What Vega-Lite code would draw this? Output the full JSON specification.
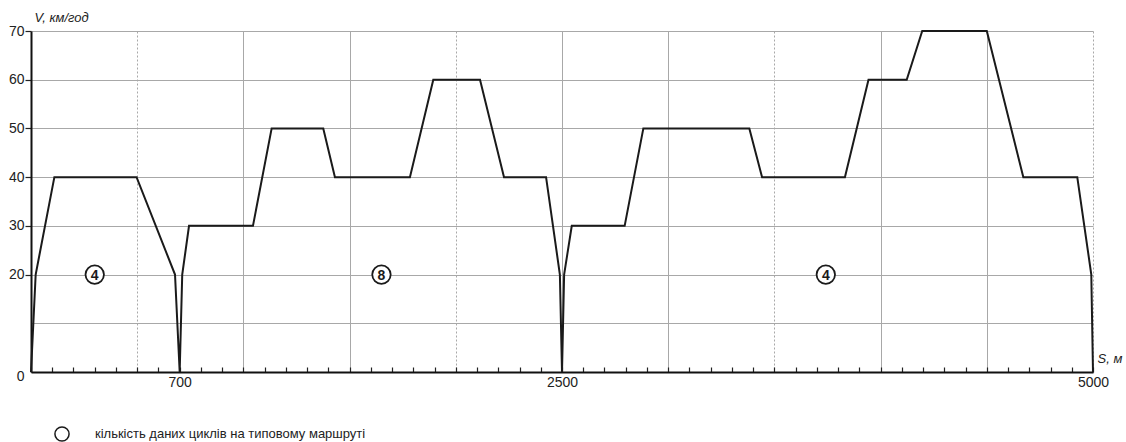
{
  "$schema": "https://vega.github.io/schema/vega-lite/v6.json",
  "width": 1062,
  "height": 341,
  "autosize": "none",
  "padding": {"left": 31, "top": 31, "right": 33, "bottom": 70},
  "background": "white",
  "config": {
    "font": "Liberation Sans",
    "view": {"stroke": null},
    "axis": {"labelFont": "Liberation Sans", "titleFont": "Liberation Sans", "labelColor": "#222", "titleColor": "#222"}
  },
  "datasets": {
    "profile": [
      {"S": 0, "V": 0}, {"S": 22, "V": 20}, {"S": 110, "V": 40}, {"S": 497, "V": 40},
      {"S": 678, "V": 20}, {"S": 700, "V": 0}, {"S": 712, "V": 20}, {"S": 744, "V": 30},
      {"S": 1045, "V": 30}, {"S": 1133, "V": 50}, {"S": 1376, "V": 50}, {"S": 1431, "V": 40},
      {"S": 1784, "V": 40}, {"S": 1894, "V": 60}, {"S": 2114, "V": 60}, {"S": 2227, "V": 40},
      {"S": 2425, "V": 40}, {"S": 2490, "V": 20}, {"S": 2500, "V": 0}, {"S": 2510, "V": 20},
      {"S": 2546, "V": 30}, {"S": 2795, "V": 30}, {"S": 2883, "V": 50}, {"S": 3382, "V": 50},
      {"S": 3442, "V": 40}, {"S": 3832, "V": 40}, {"S": 3943, "V": 60}, {"S": 4123, "V": 60},
      {"S": 4196, "V": 70}, {"S": 4500, "V": 70}, {"S": 4672, "V": 40}, {"S": 4926, "V": 40},
      {"S": 4992, "V": 20}, {"S": 5000, "V": 0}
    ],
    "cycles": [
      {"S": 300, "V": 20, "n": "4", "marker": "кількість даних циклів на типовому маршруті"},
      {"S": 1650, "V": 20, "n": "8", "marker": "кількість даних циклів на типовому маршруті"},
      {"S": 3742, "V": 20, "n": "4", "marker": "кількість даних циклів на типовому маршруті"}
    ]
  },
  "layer": [
    {
      "data": {"name": "profile"},
      "mark": {"type": "line", "color": "#1a1a1a", "strokeWidth": 2, "strokeJoin": "miter"},
      "encoding": {
        "x": {
          "field": "S", "type": "quantitative",
          "scale": {"domain": [0, 5000], "nice": false, "zero": false},
          "axis": {
            "values": [0,100,200,300,400,500,600,700,800,900,1000,1100,1200,1300,1400,1500,1600,1700,1800,1900,2000,2100,2200,2300,2400,2500,2600,2700,2800,2900,3000,3100,3200,3300,3400,3500,3600,3700,3800,3900,4000,4100,4200,4300,4400,4500,4600,4700,4800,4900,5000],
            "tickCount": 100,
            "labelExpr": "(datum.value === 700 || datum.value === 2500 || datum.value === 5000) ? datum.label : ''",
            "format": "d",
            "labelFontSize": 14,
            "labelPadding": 8,
            "labelFlush": false,
            "labelOverlap": false,
            "tickSize": -5,
            "tickColor": "#222",
            "tickWidth": 1.2,
            "domainColor": "#111",
            "domainWidth": 2,
            "grid": true,
            "gridColor": "#a8a8a8",
            "gridWidth": 1,
            "gridOpacity": {"condition": {"test": "datum.value % 500 === 0 && datum.value > 0", "value": 1}, "value": 0},
            "gridDash": {"condition": {"test": "datum.value === 500 || datum.value === 2000 || datum.value === 3500 || datum.value === 5000", "value": [2, 2]}, "value": []},
            "title": "S, м",
            "titleFontSize": 13,
            "titleFontStyle": "italic",
            "titleFontWeight": "normal",
            "titleAnchor": null,
            "titleAlign": "left",
            "titleBaseline": "alphabetic",
            "titleX": 1066,
            "titleY": -10
          }
        },
        "y": {
          "field": "V", "type": "quantitative",
          "scale": {"domain": [0, 70], "nice": false},
          "axis": {
            "values": [0,10,20,30,40,50,60,70],
            "tickCount": 20,
            "labelExpr": "datum.value === 10 ? '' : datum.label",
            "labelFontSize": 14,
            "labelPadding": 1,
            "labelFlush": false,
            "labelOffset": {"condition": {"test": "datum.value === 0", "value": 4}, "value": 0},
            "tickSize": 6,
            "tickColor": "#222",
            "tickWidth": 1.2,
            "tickOpacity": {"condition": {"test": "datum.value === 10 || datum.value === 0", "value": 0}, "value": 1},
            "domainColor": "#111",
            "domainWidth": 2,
            "grid": true,
            "gridColor": "#a8a8a8",
            "gridWidth": 1,
            "gridOpacity": {"condition": {"test": "datum.value === 0", "value": 0}, "value": 1},
            "title": "V, км/год",
            "titleFontSize": 13,
            "titleFontStyle": "italic",
            "titleFontWeight": "normal",
            "titleAngle": 0,
            "titleAnchor": null,
            "titleAlign": "left",
            "titleBaseline": "alphabetic",
            "titleX": 3,
            "titleY": -10
          }
        }
      }
    },
    {
      "data": {"name": "cycles"},
      "mark": {"type": "point", "filled": false, "fill": "white", "fillOpacity": 1, "stroke": "#1a1a1a", "strokeWidth": 1.8, "size": 340, "opacity": 1},
      "encoding": {
        "x": {"field": "S", "type": "quantitative"},
        "y": {"field": "V", "type": "quantitative"},
        "shape": {
          "field": "marker", "type": "nominal",
          "scale": {"range": ["circle"]},
          "legend": {
            "title": null,
            "orient": "none",
            "legendX": 23,
            "legendY": 395,
            "labelFontSize": 13,
            "labelColor": "#222",
            "labelLimit": 0,
            "labelOffset": 25,
            "symbolType": "circle",
            "symbolSize": 200,
            "encode": {
              "symbols": {
                "update": {
                  "shape": {"value": "circle"},
                  "fill": {"value": "white"},
                  "fillOpacity": {"value": 1},
                  "stroke": {"value": "#1a1a1a"},
                  "strokeWidth": {"value": 1.7},
                  "opacity": {"value": 1},
                  "size": {"value": 200}
                }
              }
            }
          }
        }
      }
    },
    {
      "data": {"name": "cycles"},
      "mark": {"type": "text", "fontSize": 14, "fontWeight": "bold", "color": "#1a1a1a", "baseline": "middle", "align": "center", "dy": 1},
      "encoding": {
        "x": {"field": "S", "type": "quantitative"},
        "y": {"field": "V", "type": "quantitative"},
        "text": {"field": "n"}
      }
    }
  ]
}
